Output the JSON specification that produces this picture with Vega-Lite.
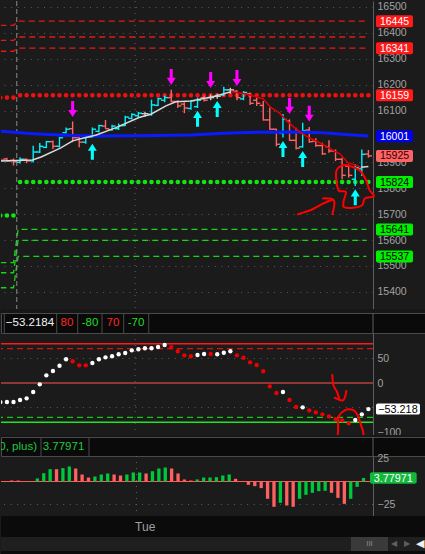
{
"$schema": "https://vega.github.io/schema/vega-lite/v6.json",
"background": "#1b1b1b",
"padding": 0,
"bounds": "flush",
"spacing": 0,
"resolve": {"scale": {"color": "independent", "shape": "independent"}},
"config": {"view": {"stroke": null}, "font": "Liberation Sans"},
"datasets": {
"ohlc": [
{"i":-1,"o":15915,"h":15918,"l":15903,"c":15908},
{"i":0,"o":15913,"h":15918,"l":15903,"c":15906},
{"i":1,"o":15908,"h":15915,"l":15888,"c":15902},
{"i":2,"o":15900,"h":15920,"l":15896,"c":15912},
{"i":3,"o":15912,"h":15915,"l":15897,"c":15906},
{"i":4,"o":15906,"h":15964,"l":15900,"c":15940},
{"i":5,"o":15940,"h":15975,"l":15936,"c":15962},
{"i":6,"o":15958,"h":15983,"l":15955,"c":15980},
{"i":7,"o":15980,"h":15984,"l":15952,"c":15962},
{"i":8,"o":15962,"h":15998,"l":15958,"c":15995},
{"i":9,"o":16015,"h":16035,"l":16012,"c":16028},
{"i":10,"o":16030,"h":16058,"l":15978,"c":15995},
{"i":11,"o":15995,"h":16003,"l":15958,"c":15978},
{"i":12,"o":15978,"h":16000,"l":15972,"c":15997},
{"i":13,"o":15998,"h":16035,"l":15995,"c":16028},
{"i":14,"o":16020,"h":16045,"l":16015,"c":16042},
{"i":15,"o":16040,"h":16064,"l":16030,"c":16030},
{"i":16,"o":16026,"h":16045,"l":16022,"c":16040},
{"i":17,"o":16030,"h":16050,"l":16025,"c":16042},
{"i":18,"o":16042,"h":16080,"l":16040,"c":16075},
{"i":19,"o":16070,"h":16090,"l":16066,"c":16085},
{"i":20,"o":16080,"h":16095,"l":16075,"c":16090},
{"i":21,"o":16088,"h":16095,"l":16076,"c":16088},
{"i":22,"o":16085,"h":16142,"l":16080,"c":16122},
{"i":23,"o":16120,"h":16150,"l":16118,"c":16146},
{"i":24,"o":16140,"h":16158,"l":16132,"c":16150},
{"i":25,"o":16150,"h":16180,"l":16132,"c":16135},
{"i":26,"o":16135,"h":16140,"l":16110,"c":16118},
{"i":27,"o":16125,"h":16132,"l":16090,"c":16110},
{"i":28,"o":16108,"h":16140,"l":16103,"c":16138},
{"i":29,"o":16115,"h":16150,"l":16110,"c":16140},
{"i":30,"o":16150,"h":16158,"l":16135,"c":16140},
{"i":31,"o":16150,"h":16162,"l":16140,"c":16150},
{"i":32,"o":16155,"h":16165,"l":16146,"c":16155},
{"i":33,"o":16160,"h":16192,"l":16156,"c":16180},
{"i":34,"o":16180,"h":16188,"l":16165,"c":16180},
{"i":35,"o":16175,"h":16178,"l":16140,"c":16150},
{"i":36,"o":16145,"h":16175,"l":16140,"c":16170},
{"i":37,"o":16165,"h":16170,"l":16122,"c":16128},
{"i":38,"o":16140,"h":16150,"l":16118,"c":16128},
{"i":39,"o":16120,"h":16137,"l":16062,"c":16064},
{"i":40,"o":16064,"h":16112,"l":16026,"c":16028},
{"i":41,"o":16028,"h":16030,"l":15962,"c":15970},
{"i":42,"o":16012,"h":16087,"l":15996,"c":16066},
{"i":43,"o":16060,"h":16066,"l":15983,"c":15985},
{"i":44,"o":15985,"h":16034,"l":15950,"c":15955},
{"i":45,"o":15960,"h":16053,"l":15957,"c":16022},
{"i":46,"o":16025,"h":16037,"l":15976,"c":15980},
{"i":47,"o":15982,"h":15993,"l":15960,"c":15965},
{"i":48,"o":15965,"h":15976,"l":15929,"c":15933},
{"i":49,"o":15960,"h":15985,"l":15937,"c":15944},
{"i":50,"o":15944,"h":15950,"l":15905,"c":15912},
{"i":51,"o":15912,"h":15918,"l":15835,"c":15850},
{"i":52,"o":15885,"h":15892,"l":15841,"c":15850},
{"i":53,"o":15835,"h":15893,"l":15809,"c":15880},
{"i":54,"o":15875,"h":15950,"l":15847,"c":15931},
{"i":55,"o":15932,"h":15948,"l":15918,"c":15925}
],
"ma": [
{"seg":"a","slope":"up","i":-1,"p":15905},{"seg":"a","slope":"up","i":3.9,"p":15909},{"seg":"a","slope":"up","i":5.2,"p":15921},{"seg":"a","slope":"up","i":8.2,"p":15956},{"seg":"a","slope":"up","i":10.0,"p":15983},{"seg":"a","slope":"up","i":11.7,"p":15994},{"seg":"a","slope":"up","i":13.6,"p":16006},{"seg":"a","slope":"up","i":16.6,"p":16034},{"seg":"a","slope":"up","i":20.1,"p":16073},{"seg":"a","slope":"up","i":21.9,"p":16086},{"seg":"a","slope":"up","i":24.2,"p":16118},{"seg":"a","slope":"up","i":25.7,"p":16134},{"seg":"a","slope":"up","i":28.0,"p":16137},{"seg":"a","slope":"up","i":31.1,"p":16152},{"seg":"a","slope":"up","i":34.1,"p":16173},
{"seg":"b","slope":"down","i":34.1,"p":16173},{"seg":"b","slope":"down","i":36.4,"p":16164},{"seg":"b","slope":"down","i":39.0,"p":16145},{"seg":"b","slope":"down","i":40.2,"p":16111},{"seg":"b","slope":"down","i":41.5,"p":16090},{"seg":"b","slope":"down","i":42.5,"p":16062},{"seg":"b","slope":"down","i":43.7,"p":16035},{"seg":"b","slope":"down","i":44.6,"p":16017},{"seg":"b","slope":"down","i":46.0,"p":15995},{"seg":"b","slope":"down","i":47.6,"p":15976},{"seg":"b","slope":"down","i":49.8,"p":15944},{"seg":"b","slope":"down","i":50.7,"p":15932},{"seg":"b","slope":"down","i":51.9,"p":15899},{"seg":"b","slope":"down","i":53.9,"p":15881},
{"seg":"c","slope":"up","i":53.9,"p":15881},{"seg":"c","slope":"up","i":55,"p":15884}
],
"ma2": [
{"i":-1,"p":16020},{"i":4,"p":16011},{"i":10,"p":16004},{"i":13.6,"p":16002},{"i":20,"p":16003},{"i":28,"p":16006},{"i":33,"p":16012},{"i":38,"p":16016},{"i":44,"p":16017},{"i":48,"p":16014},{"i":52,"p":16007},{"i":55,"p":16002}
],
"levels": [
{"grp":"r1","kind":"r","i":-1,"p":16429},{"grp":"r1","kind":"r","i":1.0,"p":16429},{"grp":"r1","kind":"r","i":1.7,"p":16445},{"grp":"r1","kind":"r","i":54.7,"p":16445},
{"grp":"r2","kind":"r","i":-1,"p":16371},{"grp":"r2","kind":"r","i":1.0,"p":16371},{"grp":"r2","kind":"r","i":1.7,"p":16384},{"grp":"r2","kind":"r","i":54.7,"p":16384},
{"grp":"r3","kind":"r","i":-1,"p":16329},{"grp":"r3","kind":"r","i":1.0,"p":16329},{"grp":"r3","kind":"r","i":1.7,"p":16341},{"grp":"r3","kind":"r","i":54.7,"p":16341},
{"grp":"s1","kind":"s","i":-1,"p":15513},{"grp":"s1","kind":"s","i":1.0,"p":15513},{"grp":"s1","kind":"s","i":1.7,"p":15641},{"grp":"s1","kind":"s","i":54.7,"p":15641},
{"grp":"s2","kind":"s","i":-1,"p":15474},{"grp":"s2","kind":"s","i":1.0,"p":15474},{"grp":"s2","kind":"s","i":1.7,"p":15599},{"grp":"s2","kind":"s","i":54.7,"p":15599},
{"grp":"s3","kind":"s","i":-1,"p":15416},{"grp":"s3","kind":"s","i":1.0,"p":15416},{"grp":"s3","kind":"s","i":1.7,"p":15537},{"grp":"s3","kind":"s","i":54.7,"p":15537},
{"grp":"h0","kind":"hi","i":-1,"p":16150},{"grp":"h0","kind":"hi","i":1,"p":16150},
{"grp":"h1","kind":"hi","i":2,"p":16159},{"grp":"h1","kind":"hi","i":55,"p":16159},
{"grp":"l0","kind":"lo","i":-1,"p":15695},{"grp":"l0","kind":"lo","i":1,"p":15695},
{"grp":"l1","kind":"lo","i":2,"p":15824},{"grp":"l1","kind":"lo","i":55,"p":15824}
],
"arrows": [
{"i":10,"p":16106,"dir":"down"},{"i":25,"p":16230,"dir":"down"},{"i":31,"p":16218,"dir":"down"},{"i":35,"p":16226,"dir":"down"},{"i":43,"p":16118,"dir":"down"},{"i":46,"p":16088,"dir":"down"},
{"i":13,"p":15941,"dir":"up"},{"i":29,"p":16068,"dir":"up"},{"i":32,"p":16106,"dir":"up"},{"i":42,"p":15952,"dir":"up"},{"i":45,"p":15913,"dir":"up"},{"i":53,"p":15765,"dir":"up"}
],
"ink": [
{"s":"a","k":0,"i":44.29,"p":15700},{"s":"a","k":1,"i":45.2,"p":15707},{"s":"a","k":2,"i":46.27,"p":15716},{"s":"a","k":3,"i":47.18,"p":15728},{"s":"a","k":4,"i":48.09,"p":15741},{"s":"a","k":5,"i":49.46,"p":15755},
{"s":"b","k":0,"i":48.09,"p":15761},{"s":"b","k":1,"i":49.72,"p":15754},{"s":"b","k":2,"i":49.51,"p":15700},
{"s":"c","k":0,"i":50.53,"p":15882},{"s":"c","k":1,"i":50.12,"p":15867},{"s":"c","k":2,"i":50.22,"p":15815},{"s":"c","k":3,"i":50.53,"p":15790},{"s":"c","k":4,"i":51.55,"p":15787},{"s":"c","k":5,"i":51.24,"p":15751},{"s":"c","k":6,"i":51.24,"p":15728},{"s":"c","k":7,"i":52.66,"p":15725},{"s":"c","k":8,"i":54.07,"p":15735},{"s":"c","k":9,"i":54.44,"p":15761},{"s":"c","k":10,"i":55.85,"p":15770},{"s":"c","k":11,"i":55.2,"p":15792},{"s":"c","k":12,"i":54.59,"p":15835},{"s":"c","k":13,"i":53.68,"p":15869},{"s":"c","k":14,"i":52.66,"p":15882},{"s":"c","k":15,"i":51.39,"p":15890},{"s":"c","k":16,"i":50.53,"p":15882}
],
"tags": [
{"p":16445,"kind":"r"},{"p":16341,"kind":"r"},{"p":16159,"kind":"hi"},{"p":16001,"kind":"ma"},{"p":15925,"kind":"last"},{"p":15824,"kind":"lo"},{"p":15641,"kind":"s"},{"p":15537,"kind":"s"}
],
"osc": [
{"i":-1,"v":-38.8,"trend":"up"},{"i":0,"v":-38.8,"trend":"up"},{"i":1,"v":-38.8,"trend":"up"},{"i":2,"v":-34.7,"trend":"up"},{"i":3,"v":-31.2,"trend":"up"},{"i":4,"v":-18.4,"trend":"up"},{"i":5,"v":-2.7,"trend":"up"},{"i":6,"v":15.7,"trend":"up"},{"i":7,"v":24.5,"trend":"up"},{"i":8,"v":35.3,"trend":"up"},{"i":9,"v":48.4,"trend":"up"},
{"i":10,"v":44.3,"trend":"down"},{"i":11,"v":36.1,"trend":"down"},{"i":12,"v":36.1,"trend":"down"},{"i":13,"v":40.8,"trend":"up"},{"i":14,"v":48.4,"trend":"up"},{"i":15,"v":52.4,"trend":"up"},{"i":16,"v":54.5,"trend":"up"},{"i":17,"v":58.6,"trend":"up"},{"i":18,"v":61.2,"trend":"up"},{"i":19,"v":66.7,"trend":"up"},
{"i":20,"v":68.8,"trend":"up"},{"i":21,"v":70.8,"trend":"up"},{"i":22,"v":70.8,"trend":"up"},{"i":23,"v":73.5,"trend":"up"},{"i":24,"v":77.6,"trend":"up"},{"i":25,"v":72.9,"trend":"down"},{"i":26,"v":64.7,"trend":"down"},{"i":27,"v":56.5,"trend":"down"},{"i":28,"v":54.5,"trend":"down"},{"i":29,"v":57.1,"trend":"up"},
{"i":30,"v":59.2,"trend":"up"},{"i":31,"v":59.2,"trend":"down"},{"i":32,"v":58.6,"trend":"up"},{"i":33,"v":61.8,"trend":"up"},{"i":34,"v":64.7,"trend":"up"},{"i":35,"v":56.5,"trend":"down"},{"i":36,"v":51.6,"trend":"down"},{"i":37,"v":42.2,"trend":"down"},{"i":38,"v":36.7,"trend":"down"},{"i":39,"v":23.9,"trend":"down"},
{"i":40,"v":-6.7,"trend":"down"},{"i":41,"v":-20.4,"trend":"down"},{"i":42,"v":-18.4,"trend":"up"},{"i":43,"v":-34.7,"trend":"down"},{"i":44,"v":-49.0,"trend":"down"},{"i":45,"v":-49.6,"trend":"up"},{"i":46,"v":-55.7,"trend":"down"},{"i":47,"v":-59.8,"trend":"down"},{"i":48,"v":-63.9,"trend":"down"},{"i":49,"v":-68.0,"trend":"down"},
{"i":50,"v":-73.5,"trend":"down"},{"i":51,"v":-76.1,"trend":"down"},{"i":52,"v":-82.2,"trend":"down"},{"i":53,"v":-75.5,"trend":"up"},{"i":54,"v":-63.9,"trend":"up"},{"i":55,"v":-53.2184,"trend":"up"}
],
"oink": [
{"s":"a","k":0,"i":49.51,"v":16.3},{"s":"a","k":1,"i":49.72,"v":-6.1},{"s":"a","k":2,"i":50.22,"v":-17.8},{"s":"a","k":3,"i":50.53,"v":-31.2},
{"s":"b","k":0,"i":49.87,"v":-30.0},{"s":"b","k":1,"i":51.14,"v":-35.3},{"s":"b","k":2,"i":51.64,"v":-16.3},
{"s":"c","k":0,"i":50.3,"v":-112},{"s":"c","k":1,"i":50.38,"v":-98},{"s":"c","k":2,"i":50.53,"v":-67.3},{"s":"c","k":3,"i":51.39,"v":-55.7},{"s":"c","k":4,"i":52.15,"v":-53.7},{"s":"c","k":5,"i":52.92,"v":-57.1},{"s":"c","k":6,"i":53.42,"v":-67.3},{"s":"c","k":7,"i":53.92,"v":-87.8},{"s":"c","k":8,"i":54.18,"v":-98},{"s":"c","k":9,"i":54.3,"v":-112}
],
"hist": [
{"i":0,"v":1.1,"trend":"down"},{"i":1,"v":1.1,"trend":"down"},{"i":2,"v":0.2,"trend":"down"},{"i":3,"v":0.3,"trend":"up"},{"i":4,"v":3.3,"trend":"up"},{"i":5,"v":9.0,"trend":"up"},{"i":6,"v":13.4,"trend":"up"},{"i":7,"v":13.4,"trend":"down"},{"i":8,"v":14.5,"trend":"up"},{"i":9,"v":16.3,"trend":"up"},
{"i":10,"v":14.1,"trend":"down"},{"i":11,"v":7.6,"trend":"down"},{"i":12,"v":4.3,"trend":"down"},{"i":13,"v":5.4,"trend":"up"},{"i":14,"v":7.6,"trend":"up"},{"i":15,"v":8.7,"trend":"up"},{"i":16,"v":7.6,"trend":"down"},{"i":17,"v":6.5,"trend":"down"},{"i":18,"v":7.6,"trend":"up"},{"i":19,"v":9.8,"trend":"up"},
{"i":20,"v":9.8,"trend":"up"},{"i":21,"v":8.7,"trend":"down"},{"i":22,"v":11.2,"trend":"up"},{"i":23,"v":14.1,"trend":"up"},{"i":24,"v":15.2,"trend":"up"},{"i":25,"v":14.1,"trend":"down"},{"i":26,"v":8.7,"trend":"down"},{"i":27,"v":2.2,"trend":"down"},{"i":28,"v":1.1,"trend":"down"},{"i":29,"v":2.2,"trend":"up"},
{"i":30,"v":4.3,"trend":"up"},{"i":31,"v":4.3,"trend":"up"},{"i":32,"v":4.7,"trend":"up"},{"i":33,"v":6.5,"trend":"up"},{"i":34,"v":7.6,"trend":"up"},{"i":35,"v":2.9,"trend":"down"},{"i":36,"v":-0.5,"trend":"down"},{"i":37,"v":-3.6,"trend":"down"},{"i":38,"v":-5.1,"trend":"down"},{"i":39,"v":-7.2,"trend":"down"},
{"i":40,"v":-18.8,"trend":"down"},{"i":41,"v":-27.5,"trend":"down"},{"i":42,"v":-23.2,"trend":"up"},{"i":43,"v":-26.1,"trend":"down"},{"i":44,"v":-27.5,"trend":"down"},{"i":45,"v":-18.8,"trend":"up"},{"i":46,"v":-14.5,"trend":"up"},{"i":47,"v":-12.3,"trend":"up"},{"i":48,"v":-10.5,"trend":"up"},{"i":49,"v":-10.1,"trend":"up"},
{"i":50,"v":-12.3,"trend":"down"},{"i":51,"v":-17.8,"trend":"down"},{"i":52,"v":-24.3,"trend":"down"},{"i":53,"v":-18.8,"trend":"up"},{"i":54,"v":-5.8,"trend":"up"},{"i":55,"v":3.77971,"trend":"up"}
]
},
"vconcat": [
{
"width": 372, "height": 308,
"resolve": {"scale": {"color": "independent", "shape": "independent"}, "axis": {"x": "independent", "y": "independent"}},
"layer": [
{"data": {"name": "levels"}, "transform": [{"filter": "datum.kind == 'r' || datum.kind == 's'"}],
 "mark": {"type": "line", "strokeWidth": 1.3, "strokeDash": [6, 4], "clip": true},
 "encoding": {
  "x": {"field": "i", "type": "quantitative", "scale": {"domain": [-0.9, 55.7], "nice": false, "zero": false}, "axis": {"orient": "bottom", "labels": false, "ticks": false, "grid": false, "domain": true, "domainColor": "#5e5e5e", "title": null}},
  "y": {"field": "p", "type": "quantitative", "scale": {"domain": [15334, 16523], "nice": false, "zero": false}, "axis": {"orient": "right", "values": [15400,15500,15600,15700,15800,15900,16100,16200,16300,16400,16500], "format": "d", "title": null, "grid": true, "gridColor": "#5c5c5c", "gridDash": [1, 5.57], "domain": true, "domainColor": "#5e5e5e", "ticks": false, "tickSize": 0, "labelColor": "#a2a2a2", "labelFont": "Liberation Sans", "labelFontSize": 10.5, "labelPadding": 4, "labelOverlap": false, "labelFlush": false}},
  "detail": {"field": "grp", "type": "nominal"},
  "color": {"field": "kind", "type": "nominal", "scale": {"domain": ["r", "s"], "range": ["#e41818", "#18d418"]}, "legend": null}}},
{"data": {"values": [{}]}, "mark": {"type": "rule", "color": "#8c8c8c", "strokeWidth": 1, "strokeDash": [5, 3]},
 "encoding": {"x": {"datum": 1.5, "type": "quantitative", "scale": {"domain": [-0.9, 55.7], "nice": false, "zero": false}, "axis": null}}},
{"data": {"values": [{}]}, "mark": {"type": "rule", "color": "#646464", "strokeWidth": 1, "strokeDash": [1, 5]},
 "encoding": {"x": {"datum": 19.5, "type": "quantitative", "scale": {"domain": [-0.9, 55.7], "nice": false, "zero": false}, "axis": null}}},
{"data": {"name": "levels"}, "transform": [{"filter": "datum.kind == 'hi' || datum.kind == 'lo'"}],
 "mark": {"type": "line", "strokeWidth": 4.6, "strokeCap": "round", "strokeDash": [0.01, 6.5624], "clip": true},
 "encoding": {
  "x": {"field": "i", "type": "quantitative", "scale": {"domain": [-0.9, 55.7], "nice": false, "zero": false}, "axis": null},
  "y": {"field": "p", "type": "quantitative", "scale": {"domain": [15334, 16523], "nice": false, "zero": false}, "axis": null},
  "detail": {"field": "grp", "type": "nominal"},
  "color": {"field": "kind", "type": "nominal", "scale": {"domain": ["hi", "lo"], "range": ["#f01010", "#12e612"]}, "legend": null}}},
{"data": {"name": "ohlc"}, "mark": {"type": "rule", "strokeWidth": 1.4, "clip": true},
 "encoding": {
  "x": {"field": "i", "type": "quantitative", "scale": {"domain": [-0.9, 55.7], "nice": false, "zero": false}, "axis": null},
  "y": {"field": "l", "type": "quantitative", "scale": {"domain": [15334, 16523], "nice": false, "zero": false}, "axis": null},
  "y2": {"field": "h"},
  "color": {"condition": [{"test": "datum.c > datum.o", "value": "#00f0ff"}, {"test": "datum.c < datum.o", "value": "#ff6464"}], "value": "#c8c8c8"}}},
{"data": {"name": "ohlc"}, "mark": {"type": "tick", "orient": "horizontal", "size": 3.6, "thickness": 1.4, "xOffset": -1.8, "opacity": 1, "clip": true},
 "encoding": {
  "x": {"field": "i", "type": "quantitative", "scale": {"domain": [-0.9, 55.7], "nice": false, "zero": false}, "axis": null},
  "y": {"field": "o", "type": "quantitative", "scale": {"domain": [15334, 16523], "nice": false, "zero": false}, "axis": null},
  "color": {"condition": [{"test": "datum.c > datum.o", "value": "#00f0ff"}, {"test": "datum.c < datum.o", "value": "#ff6464"}], "value": "#c8c8c8"}}},
{"data": {"name": "ohlc"}, "mark": {"type": "tick", "orient": "horizontal", "size": 3.6, "thickness": 1.4, "xOffset": 1.8, "opacity": 1, "clip": true},
 "encoding": {
  "x": {"field": "i", "type": "quantitative", "scale": {"domain": [-0.9, 55.7], "nice": false, "zero": false}, "axis": null},
  "y": {"field": "c", "type": "quantitative", "scale": {"domain": [15334, 16523], "nice": false, "zero": false}, "axis": null},
  "color": {"condition": [{"test": "datum.c > datum.o", "value": "#00f0ff"}, {"test": "datum.c < datum.o", "value": "#ff6464"}], "value": "#c8c8c8"}}},
{"data": {"name": "ma2"}, "mark": {"type": "line", "color": "#0a1cff", "strokeWidth": 3, "clip": true},
 "encoding": {
  "x": {"field": "i", "type": "quantitative", "scale": {"domain": [-0.9, 55.7], "nice": false, "zero": false}, "axis": null},
  "y": {"field": "p", "type": "quantitative", "scale": {"domain": [15334, 16523], "nice": false, "zero": false}, "axis": null}}},
{"data": {"name": "ma"}, "mark": {"type": "line", "strokeWidth": 1.5, "clip": true},
 "encoding": {
  "x": {"field": "i", "type": "quantitative", "scale": {"domain": [-0.9, 55.7], "nice": false, "zero": false}, "axis": null},
  "y": {"field": "p", "type": "quantitative", "scale": {"domain": [15334, 16523], "nice": false, "zero": false}, "axis": null},
  "detail": {"field": "seg", "type": "nominal"},
  "color": {"field": "slope", "type": "nominal", "scale": {"domain": ["up", "down"], "range": ["#d9d9d9", "#e00000"]}, "legend": null}}},
{"data": {"name": "arrows"}, "mark": {"type": "point", "filled": true, "opacity": 1, "strokeWidth": 0, "size": 256},
 "encoding": {
  "x": {"field": "i", "type": "quantitative", "scale": {"domain": [-0.9, 55.7], "nice": false, "zero": false}, "axis": null},
  "y": {"field": "p", "type": "quantitative", "scale": {"domain": [15334, 16523], "nice": false, "zero": false}, "axis": null},
  "shape": {"field": "dir", "type": "nominal", "scale": {"domain": ["down", "up"], "range": ["M-0.19,-1 L0.19,-1 L0.19,0.12 L0.56,0.12 L0,1 L-0.56,0.12 L-0.19,0.12 Z", "M-0.19,1 L0.19,1 L0.19,-0.12 L0.56,-0.12 L0,-1 L-0.56,-0.12 L-0.19,-0.12 Z"]}, "legend": null},
  "color": {"field": "dir", "type": "nominal", "scale": {"domain": ["down", "up"], "range": ["#ff00ff", "#00ffff"]}, "legend": null}}},
{"data": {"name": "ink"}, "mark": {"type": "line", "color": "#ff0000", "strokeWidth": 2, "strokeCap": "round", "strokeJoin": "round", "interpolate": "catmull-rom", "clip": false},
 "encoding": {
  "x": {"field": "i", "type": "quantitative", "scale": {"domain": [-0.9, 55.7], "nice": false, "zero": false}, "axis": null},
  "y": {"field": "p", "type": "quantitative", "scale": {"domain": [15334, 16523], "nice": false, "zero": false}, "axis": null},
  "detail": {"field": "s", "type": "nominal"},
  "order": {"field": "k", "type": "quantitative"}}},
{"data": {"name": "tags"}, "mark": {"type": "point", "filled": true, "opacity": 1, "strokeWidth": 0, "size": 1369, "shape": "M-0.9,-0.324 L0.9,-0.324 Q1,-0.324 1,-0.224 L1,0.224 Q1,0.324 0.9,0.324 L-0.9,0.324 Q-1,0.324 -1,0.224 L-1,-0.224 Q-1,-0.324 -0.9,-0.324 Z"},
 "encoding": {
  "x": {"datum": 58.97, "type": "quantitative", "scale": {"domain": [-0.9, 55.7], "nice": false, "zero": false}, "axis": null},
  "y": {"field": "p", "type": "quantitative", "scale": {"domain": [15334, 16523], "nice": false, "zero": false}, "axis": null},
  "color": {"field": "kind", "type": "nominal", "scale": {"domain": ["r", "hi", "ma", "last", "lo", "s"], "range": ["#ff1a1a", "#ff1a1a", "#0000e6", "#ff6464", "#00ee00", "#00ee00"]}, "legend": null}}},
{"data": {"name": "tags"}, "mark": {"type": "text", "fontSize": 10.5, "align": "center", "baseline": "middle", "dy": 0.5},
 "encoding": {
  "x": {"datum": 58.97, "type": "quantitative", "scale": {"domain": [-0.9, 55.7], "nice": false, "zero": false}, "axis": null},
  "y": {"field": "p", "type": "quantitative", "scale": {"domain": [15334, 16523], "nice": false, "zero": false}, "axis": null},
  "text": {"field": "p", "type": "quantitative", "format": "d"},
  "color": {"field": "kind", "type": "nominal", "scale": {"domain": ["r", "hi", "ma", "last", "lo", "s"], "range": ["#ffffff", "#ffffff", "#ffffff", "#300000", "#000000", "#000000"]}, "legend": null}}}
]
},
{"width": 425, "height": 4, "view": {"fill": "#171717"}, "data": {"values": [{}]}, "mark": {"type": "text"}, "encoding": {"text": {"value": ""}}},
{
"width": 425, "height": 20,
"view": {"fill": "#0a0a0a", "stroke": "#4a4a4a"},
"data": {"values": [{}]},
"layer": [
{"data": {"name": "osc"}, "transform": [{"filter": "datum.i == 55"}], "mark": {"type": "text", "color": "#f2f2f2", "fontSize": 11.5, "align": "center", "baseline": "middle"},
 "encoding": {"x": {"datum": 29, "type": "quantitative", "scale": {"domain": [0, 425], "nice": false, "zero": false}, "axis": null}, "text": {"field": "v", "type": "quantitative", "format": ".4f"}}},
{"mark": {"type": "text", "text": "80", "color": "#ff2424", "fontSize": 11.5, "align": "center", "baseline": "middle"},
 "encoding": {"x": {"datum": 66, "type": "quantitative", "scale": {"domain": [0, 425], "nice": false, "zero": false}, "axis": null}}},
{"mark": {"type": "text", "text": "-80", "color": "#22dd22", "fontSize": 11.5, "align": "center", "baseline": "middle"},
 "encoding": {"x": {"datum": 89, "type": "quantitative", "scale": {"domain": [0, 425], "nice": false, "zero": false}, "axis": null}}},
{"mark": {"type": "text", "text": "70", "color": "#ff2424", "fontSize": 11.5, "align": "center", "baseline": "middle"},
 "encoding": {"x": {"datum": 112, "type": "quantitative", "scale": {"domain": [0, 425], "nice": false, "zero": false}, "axis": null}}},
{"mark": {"type": "text", "text": "-70", "color": "#22dd22", "fontSize": 11.5, "align": "center", "baseline": "middle"},
 "encoding": {"x": {"datum": 135, "type": "quantitative", "scale": {"domain": [0, 425], "nice": false, "zero": false}, "axis": null}}},
{"mark": {"type": "rule", "color": "#4a4a4a"}, "encoding": {"x": {"datum": 3.3, "type": "quantitative", "scale": {"domain": [0, 425], "nice": false, "zero": false}, "axis": null}}},
{"mark": {"type": "rule", "color": "#4a4a4a"}, "encoding": {"x": {"datum": 55.7, "type": "quantitative", "scale": {"domain": [0, 425], "nice": false, "zero": false}, "axis": null}}},
{"mark": {"type": "rule", "color": "#4a4a4a"}, "encoding": {"x": {"datum": 76.7, "type": "quantitative", "scale": {"domain": [0, 425], "nice": false, "zero": false}, "axis": null}}},
{"mark": {"type": "rule", "color": "#4a4a4a"}, "encoding": {"x": {"datum": 101, "type": "quantitative", "scale": {"domain": [0, 425], "nice": false, "zero": false}, "axis": null}}},
{"mark": {"type": "rule", "color": "#4a4a4a"}, "encoding": {"x": {"datum": 122.7, "type": "quantitative", "scale": {"domain": [0, 425], "nice": false, "zero": false}, "axis": null}}},
{"mark": {"type": "rule", "color": "#4a4a4a"}, "encoding": {"x": {"datum": 147.7, "type": "quantitative", "scale": {"domain": [0, 425], "nice": false, "zero": false}, "axis": null}}},
{"mark": {"type": "rule", "color": "#5e5e5e"}, "encoding": {"x": {"datum": 372, "type": "quantitative", "scale": {"domain": [0, 425], "nice": false, "zero": false}, "axis": null}}}
]
},
{
"width": 372, "height": 102,
"resolve": {"axis": {"x": "independent", "y": "independent"}},
"layer": [
{"data": {"values": [{}]}, "mark": {"type": "rule", "color": "#646464", "strokeWidth": 1, "strokeDash": [1, 5]},
 "encoding": {"x": {"datum": 19.5, "type": "quantitative", "scale": {"domain": [-0.9, 55.7], "nice": false, "zero": false}, "axis": null}}},
{"data": {"values": [{}]}, "mark": {"type": "rule", "color": "#5c5c5c", "strokeWidth": 1, "strokeDash": [1, 5.57]},
 "encoding": {"y": {"datum": 50, "type": "quantitative", "scale": {"domain": [-106, 102], "nice": false, "zero": false}, "axis": null}}},
{"data": {"values": [{}]}, "mark": {"type": "rule", "color": "#5c5c5c", "strokeWidth": 1, "strokeDash": [1, 5.57]},
 "encoding": {"y": {"datum": -50, "type": "quantitative", "scale": {"domain": [-106, 102], "nice": false, "zero": false}, "axis": null}}},
{"data": {"values": [{}]}, "mark": {"type": "rule", "color": "#ff1a1a", "strokeWidth": 1.5},
 "encoding": {"y": {"datum": 80, "type": "quantitative", "scale": {"domain": [-106, 102], "nice": false, "zero": false}, "axis": null}}},
{"data": {"values": [{}]}, "mark": {"type": "rule", "color": "#d41414", "strokeWidth": 1.2, "strokeDash": [6, 4]},
 "encoding": {"y": {"datum": 70, "type": "quantitative", "scale": {"domain": [-106, 102], "nice": false, "zero": false}, "axis": null}}},
{"data": {"values": [{}]}, "mark": {"type": "rule", "color": "#ff5555", "strokeWidth": 1.2},
 "encoding": {"y": {"datum": 0, "type": "quantitative", "scale": {"domain": [-106, 102], "nice": false, "zero": false}, "axis": null}}},
{"data": {"values": [{}]}, "mark": {"type": "rule", "color": "#14c814", "strokeWidth": 1.2, "strokeDash": [6, 4]},
 "encoding": {"y": {"datum": -70, "type": "quantitative", "scale": {"domain": [-106, 102], "nice": false, "zero": false}, "axis": null}}},
{"data": {"values": [{}]}, "mark": {"type": "rule", "color": "#1ee61e", "strokeWidth": 1.5},
 "encoding": {"y": {"datum": -80, "type": "quantitative", "scale": {"domain": [-106, 102], "nice": false, "zero": false}, "axis": null}}},
{"data": {"name": "osc"}, "mark": {"type": "point", "shape": "circle", "filled": true, "opacity": 1, "size": 19, "strokeWidth": 0, "clip": true},
 "encoding": {
  "x": {"field": "i", "type": "quantitative", "scale": {"domain": [-0.9, 55.7], "nice": false, "zero": false}, "axis": {"orient": "bottom", "labels": false, "ticks": false, "grid": false, "domain": true, "domainColor": "#5e5e5e", "title": null}},
  "y": {"field": "v", "type": "quantitative", "scale": {"domain": [-106, 102], "nice": false, "zero": false}, "axis": {"orient": "right", "values": [-100, 0, 50], "title": null, "grid": false, "domain": true, "domainColor": "#5e5e5e", "ticks": false, "tickSize": 0, "labelColor": "#a2a2a2", "labelFontSize": 10.5, "labelPadding": 4, "labelOverlap": false, "labelFlush": false}},
  "color": {"field": "trend", "type": "nominal", "scale": {"domain": ["up", "down"], "range": ["#ffffff", "#ee0000"]}, "legend": null}}},
{"data": {"name": "oink"}, "mark": {"type": "line", "color": "#ff0000", "strokeWidth": 2, "strokeCap": "round", "strokeJoin": "round", "interpolate": "catmull-rom", "clip": false},
 "encoding": {
  "x": {"field": "i", "type": "quantitative", "scale": {"domain": [-0.9, 55.7], "nice": false, "zero": false}, "axis": null},
  "y": {"field": "v", "type": "quantitative", "scale": {"domain": [-106, 102], "nice": false, "zero": false}, "axis": null},
  "detail": {"field": "s", "type": "nominal"},
  "order": {"field": "k", "type": "quantitative"}}},
{"data": {"name": "osc"}, "transform": [{"filter": "datum.i == 55"}], "mark": {"type": "point", "filled": true, "opacity": 1, "strokeWidth": 0, "color": "#ffffff", "size": 1936, "shape": "M-0.91,-0.25 L0.91,-0.25 Q1,-0.25 1,-0.16 L1,0.16 Q1,0.25 0.91,0.25 L-0.91,0.25 Q-1,0.25 -1,0.16 L-1,-0.16 Q-1,-0.25 -0.91,-0.25 Z"},
 "encoding": {
  "x": {"datum": 59.5, "type": "quantitative", "scale": {"domain": [-0.9, 55.7], "nice": false, "zero": false}, "axis": null},
  "y": {"field": "v", "type": "quantitative", "scale": {"domain": [-106, 102], "nice": false, "zero": false}, "axis": null}}},
{"data": {"name": "osc"}, "transform": [{"filter": "datum.i == 55"}], "mark": {"type": "text", "color": "#000000", "fontSize": 10.8, "align": "center", "baseline": "middle", "dy": 0.5},
 "encoding": {
  "x": {"datum": 59.5, "type": "quantitative", "scale": {"domain": [-0.9, 55.7], "nice": false, "zero": false}, "axis": null},
  "y": {"field": "v", "type": "quantitative", "scale": {"domain": [-106, 102], "nice": false, "zero": false}, "axis": null},
  "text": {"field": "v", "type": "quantitative", "format": ".3f"}}}
]
},
{"width": 425, "height": 2, "view": {"fill": "#171717"}, "data": {"values": [{}]}, "mark": {"type": "text"}, "encoding": {"text": {"value": ""}}},
{
"width": 425, "height": 19,
"view": {"fill": "#0a0a0a", "stroke": "#4a4a4a"},
"data": {"values": [{}]},
"layer": [
{"mark": {"type": "text", "text": "0, plus)", "color": "#22c840", "fontSize": 11.5, "align": "right", "baseline": "middle", "clip": true},
 "encoding": {"x": {"datum": 36, "type": "quantitative", "scale": {"domain": [0, 425], "nice": false, "zero": false}, "axis": null}}},
{"data": {"name": "hist"}, "transform": [{"filter": "datum.i == 55"}], "mark": {"type": "text", "color": "#22c840", "fontSize": 11.5, "align": "center", "baseline": "middle"},
 "encoding": {"x": {"datum": 62.5, "type": "quantitative", "scale": {"domain": [0, 425], "nice": false, "zero": false}, "axis": null}, "text": {"field": "v", "type": "quantitative", "format": ".5f"}}},
{"mark": {"type": "rule", "color": "#4a4a4a"}, "encoding": {"x": {"datum": 40, "type": "quantitative", "scale": {"domain": [0, 425], "nice": false, "zero": false}, "axis": null}}},
{"mark": {"type": "rule", "color": "#4a4a4a"}, "encoding": {"x": {"datum": 88, "type": "quantitative", "scale": {"domain": [0, 425], "nice": false, "zero": false}, "axis": null}}},
{"mark": {"type": "rule", "color": "#5e5e5e"}, "encoding": {"x": {"datum": 372, "type": "quantitative", "scale": {"domain": [0, 425], "nice": false, "zero": false}, "axis": null}}}
]
},
{
"width": 372, "height": 60,
"resolve": {"axis": {"x": "independent", "y": "independent"}},
"layer": [
{"data": {"values": [{}]}, "mark": {"type": "rule", "color": "#646464", "strokeWidth": 1, "strokeDash": [1, 5]},
 "encoding": {"x": {"datum": 19.5, "type": "quantitative", "scale": {"domain": [-0.9, 55.7], "nice": false, "zero": false}, "axis": null}}},
{"data": {"values": [{}]}, "mark": {"type": "rule", "color": "#5c5c5c", "strokeWidth": 1, "strokeDash": [1, 5.57]},
 "encoding": {"y": {"datum": -25, "type": "quantitative", "scale": {"domain": [-37.5, 27.7], "nice": false, "zero": false}, "axis": null}}},
{"data": {"values": [{}]}, "mark": {"type": "rule", "color": "#ff5a5a", "strokeWidth": 1.2},
 "encoding": {"y": {"datum": 0, "type": "quantitative", "scale": {"domain": [-37.5, 27.7], "nice": false, "zero": false}, "axis": null}}},
{"data": {"name": "hist"}, "mark": {"type": "bar", "size": 3.3, "clip": true},
 "encoding": {
  "x": {"field": "i", "type": "quantitative", "scale": {"domain": [-0.9, 55.7], "nice": false, "zero": false}, "axis": {"orient": "bottom", "labels": false, "ticks": false, "grid": false, "domain": true, "domainColor": "#5e5e5e", "title": null}},
  "y": {"field": "v", "type": "quantitative", "stack": null, "scale": {"domain": [-37.5, 27.7], "nice": false, "zero": false}, "axis": {"orient": "right", "values": [-25, 25], "title": null, "grid": false, "domain": true, "domainColor": "#5e5e5e", "ticks": false, "tickSize": 0, "labelColor": "#a2a2a2", "labelFontSize": 10.5, "labelPadding": 4, "labelOverlap": false, "labelFlush": false}},
  "color": {"field": "trend", "type": "nominal", "scale": {"domain": ["up", "down"], "range": ["#00c83c", "#ff6060"]}, "legend": null}}},
{"data": {"name": "hist"}, "transform": [{"filter": "datum.i == 55"}], "mark": {"type": "point", "filled": true, "opacity": 1, "strokeWidth": 0, "color": "#12b83c", "size": 2181, "shape": "M-0.91,-0.25 L0.91,-0.25 Q1,-0.25 1,-0.16 L1,0.16 Q1,0.25 0.91,0.25 L-0.91,0.25 Q-1,0.25 -1,0.16 L-1,-0.16 Q-1,-0.25 -0.91,-0.25 Z"},
 "encoding": {
  "x": {"datum": 59.66, "type": "quantitative", "scale": {"domain": [-0.9, 55.7], "nice": false, "zero": false}, "axis": null},
  "y": {"field": "v", "type": "quantitative", "scale": {"domain": [-37.5, 27.7], "nice": false, "zero": false}, "axis": null}}},
{"data": {"name": "hist"}, "transform": [{"filter": "datum.i == 55"}], "mark": {"type": "text", "color": "#ffffff", "fontSize": 10.8, "align": "center", "baseline": "middle", "dy": 0.5},
 "encoding": {
  "x": {"datum": 59.66, "type": "quantitative", "scale": {"domain": [-0.9, 55.7], "nice": false, "zero": false}, "axis": null},
  "y": {"field": "v", "type": "quantitative", "scale": {"domain": [-37.5, 27.7], "nice": false, "zero": false}, "axis": null},
  "text": {"field": "v", "type": "quantitative", "format": ".5f"}}}
]
},
{"width": 425, "height": 21, "view": {"fill": "#0b0b0b"}, "data": {"values": [{"day": "Tue", "i": 19.5}]},
 "mark": {"type": "text", "align": "left", "baseline": "middle", "fontSize": 12, "color": "#a0a0a0", "dy": 0.5},
 "encoding": {"x": {"field": "i", "type": "quantitative", "scale": {"domain": [-0.9, 63.765], "nice": false, "zero": false}, "axis": null}, "text": {"field": "day", "type": "nominal"}}},
{
"width": 425, "height": 14,
"view": {"fill": "#1f1f1f"},
"data": {"values": [{}]},
"layer": [
{"mark": {"type": "rect", "color": "#3a3a3a"}, "encoding": {"x": {"datum": 350, "type": "quantitative", "scale": {"domain": [0, 425], "nice": false, "zero": false}, "axis": null}, "x2": {"datum": 387}}},
{"mark": {"type": "text", "text": "III", "fontSize": 8, "color": "#8a8a8a", "align": "center", "baseline": "middle"}, "encoding": {"x": {"datum": 368.5, "type": "quantitative", "scale": {"domain": [0, 425], "nice": false, "zero": false}, "axis": null}}},
{"mark": {"type": "text", "text": "◀", "fontSize": 8, "color": "#5e5e5e", "align": "center", "baseline": "middle"}, "encoding": {"x": {"datum": 392.5, "type": "quantitative", "scale": {"domain": [0, 425], "nice": false, "zero": false}, "axis": null}}},
{"mark": {"type": "text", "text": "▶", "fontSize": 8, "color": "#5e5e5e", "align": "center", "baseline": "middle"}, "encoding": {"x": {"datum": 406, "type": "quantitative", "scale": {"domain": [0, 425], "nice": false, "zero": false}, "axis": null}}},
{"mark": {"type": "text", "text": "◀", "fontSize": 11, "color": "#f0f0f0", "align": "center", "baseline": "middle"}, "encoding": {"x": {"datum": 419, "type": "quantitative", "scale": {"domain": [0, 425], "nice": false, "zero": false}, "axis": null}}}
]
},
{"width": 425, "height": 4, "view": {"fill": "#0b0b0b"}, "data": {"values": [{}]}, "mark": {"type": "text"}, "encoding": {"text": {"value": ""}}}
]
}
